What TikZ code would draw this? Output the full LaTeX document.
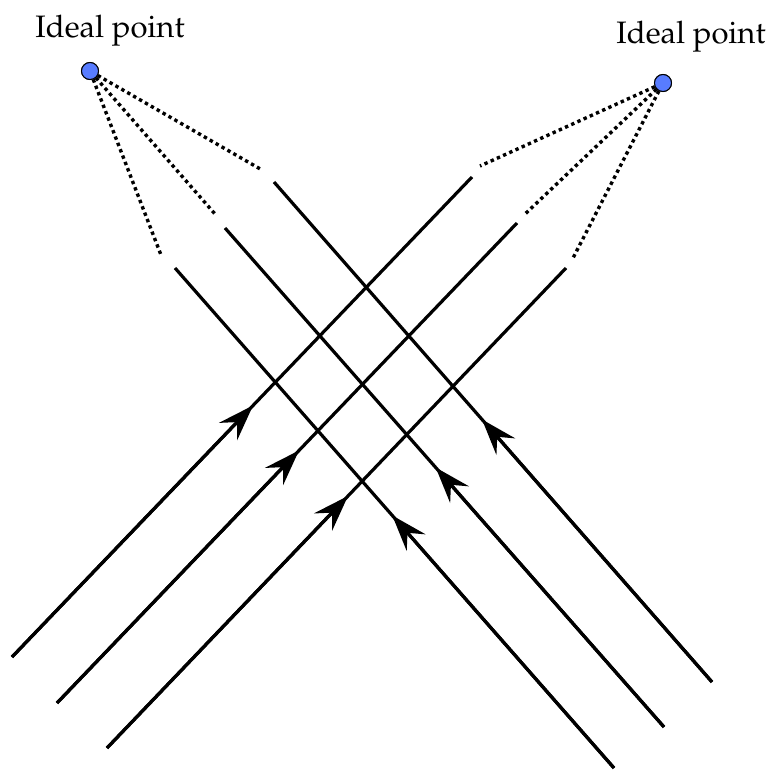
\documentclass[tikz,border=0pt]{standalone}
\usepackage[T1]{fontenc}
\usepackage{mathpazo}
\usetikzlibrary{arrows.meta,calc}
\definecolor{ptblue}{RGB}{88,124,255}
\tikzset{
  ray/.style={line width=3.2pt},
  tip/.style={line width=3.2pt,-{Stealth[length=36pt,width=25pt,inset=13pt]}},
  dots/.style={line width=3.4pt,dash pattern=on 3.4pt off 3.4pt},
  ideal/.style={circle,draw=black,line width=1pt,fill=ptblue,minimum size=17pt,inner sep=0pt},
  lbl/.style={font=\fontsize{31}{36}\selectfont,anchor=base,inner sep=0pt}
}
\begin{document}
\begin{tikzpicture}[x=1pt,y=-1pt]
\useasboundingbox (0,0) rectangle (776,769);
% ideal points
\node[ideal] (P1) at (90,71) {};
\node[ideal] (P2) at (663,83) {};
\node[lbl] (L1) at (110,37) {Ideal point};
\node[lbl] (L2) at (691,43) {Ideal point};
% up-right rays
\coordinate (a1s) at (12,657);  \coordinate (a1e) at (472,177);
\coordinate (a2s) at (57,703);  \coordinate (a2e) at (517,223);
\coordinate (a3s) at (107,748); \coordinate (a3e) at (566,268);
% up-left rays
\coordinate (b1s) at (712,682); \coordinate (b1e) at (274,182);
\coordinate (b2s) at (664,727); \coordinate (b2e) at (225,228);
\coordinate (b3s) at (614,768); \coordinate (b3e) at (175,268);
% arrow tip positions
\coordinate (ta1) at ($(a1s)!0.524!(a1e)$);
\coordinate (ta2) at ($(a2s)!0.526!(a2e)$);
\coordinate (ta3) at ($(a3s)!0.525!(a3e)$);
\coordinate (tb1) at ($(b1s)!0.525!(b1e)$);
\coordinate (tb2) at ($(b2s)!0.52!(b2e)$);
\coordinate (tb3) at ($(b3s)!0.505!(b3e)$);
% dotted ends
\coordinate (d1) at (262,170);
\coordinate (d2) at (215,214);
\coordinate (d3) at (161,255);
\coordinate (e1) at (480,166);
\coordinate (e2) at (524,215);
\coordinate (e3) at (573,258);
\foreach \r in {a1,a2,a3,b1,b2,b3}{
  \draw[ray] (\r s) -- (\r e);
}
\draw[tip] (a1s) -- (ta1);
\draw[tip] (a2s) -- (ta2);
\draw[tip] (a3s) -- (ta3);
\draw[tip] (b1s) -- (tb1);
\draw[tip] (b2s) -- (tb2);
\draw[tip] (b3s) -- (tb3);
\draw[dots] (P1) -- (d1);
\draw[dots] (P1) -- (d2);
\draw[dots] (P1) -- (d3);
\draw[dots] (P2) -- (e1);
\draw[dots] (P2) -- (e2);
\draw[dots] (P2) -- (e3);
\node[ideal] at (P1) {};
\node[ideal] at (P2) {};
\end{tikzpicture}
\end{document}
